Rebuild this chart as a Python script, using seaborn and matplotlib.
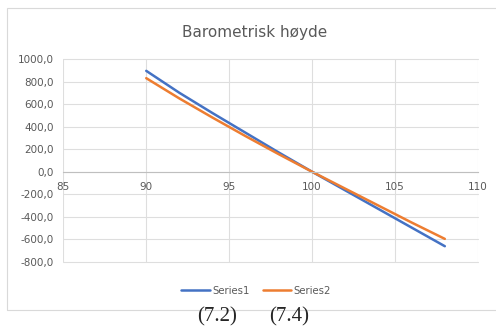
import numpy as np
import pandas as pd
import seaborn as sns
from matplotlib import pyplot as plt
from matplotlib.patches import Rectangle

# data
pressure = [90, 92, 94, 96, 98, 100, 102, 104, 106, 108]
series1 = [895, 700, 520, 345, 170, 0, -165, -330, -495, -660]
series2 = [830, 650, 480, 315, 155, 0, -150, -300, -450, -595]
series_names = ['Series1', 'Series2']
colors = ['#4472C4', '#ED7D31']
title = 'Barometrisk høyde'
x_ticks = [85, 90, 95, 100, 105, 110]
y_ticks = [-800, -600, -400, -200, 0, 200, 400, 600, 800, 1000]
captions = ['(7.2)', '(7.4)']


def build_frame():
    df1 = pd.DataFrame({'p': pressure, 'h': series1, 'series': series_names[0]})
    df2 = pd.DataFrame({'p': pressure, 'h': series2, 'series': series_names[1]})
    return pd.concat([df1, df2], ignore_index=True)


def main():
    sns.set_style('white')
    plt.rcParams['font.family'] = ['DejaVu Sans']
    df = build_frame()

    fig = plt.figure(figsize=(4.96, 3.31), dpi=100)
    # chart frame, like the spreadsheet chart area
    fig.patches.append(Rectangle((7 / 496, 21 / 331), 1, 302 / 331,
                                 transform=fig.transFigure, fill=False,
                                 edgecolor='#d9d9d9', linewidth=0.8))
    ax = fig.add_axes([63.3 / 496, 1 - 262 / 331, 414.7 / 496, 203 / 331])

    sns.lineplot(data=df, x='p', y='h', hue='series', palette=colors,
                 linewidth=1.8, ax=ax, legend=False)

    ax.set_xlim(85, 110)
    ax.set_ylim(-800, 1000)
    ax.set_xticks(x_ticks)
    ax.set_yticks(y_ticks)
    ax.set_yticklabels([f'{v:.1f}'.replace('.', ',') for v in y_ticks])
    ax.set_xlabel('')
    ax.set_ylabel('')
    ax.grid(True, color='#dedede', linewidth=0.8)
    for gl in ax.get_xgridlines() + ax.get_ygridlines():
        gl.set_clip_on(False)
    for s in ['top', 'right', 'left']:
        ax.spines[s].set_visible(False)
    ax.spines['bottom'].set_position(('data', 0))
    ax.spines['bottom'].set_color('#bfbfbf')
    ax.tick_params(axis='both', length=0, labelsize=7.5, labelcolor='#595959')
    ax.tick_params(axis='y', pad=7)
    ax.tick_params(axis='x', pad=7)

    fig.text(255 / 496, 1 - 32 / 331, title, ha='center', va='center',
             fontsize=11, color='#595959')

    handles = [plt.Line2D([], [], color=c, linewidth=1.8) for c in colors]
    leg = fig.legend(handles, series_names, loc='center', ncol=2,
                     bbox_to_anchor=(256 / 496, 1 - 291 / 331), frameon=False,
                     fontsize=7.3, handlelength=2.8, columnspacing=1.3,
                     handletextpad=0.25)
    for t in leg.get_texts():
        t.set_color('#595959')

    fig.text(217 / 496, 1 - 317 / 331, captions[0], ha='center', va='center',
             fontsize=15, family='Liberation Serif')
    fig.text(289 / 496, 1 - 317 / 331, captions[1], ha='center', va='center',
             fontsize=15, family='Liberation Serif')

    fig.savefig('out.png', dpi=100)


if __name__ == '__main__':
    main()
